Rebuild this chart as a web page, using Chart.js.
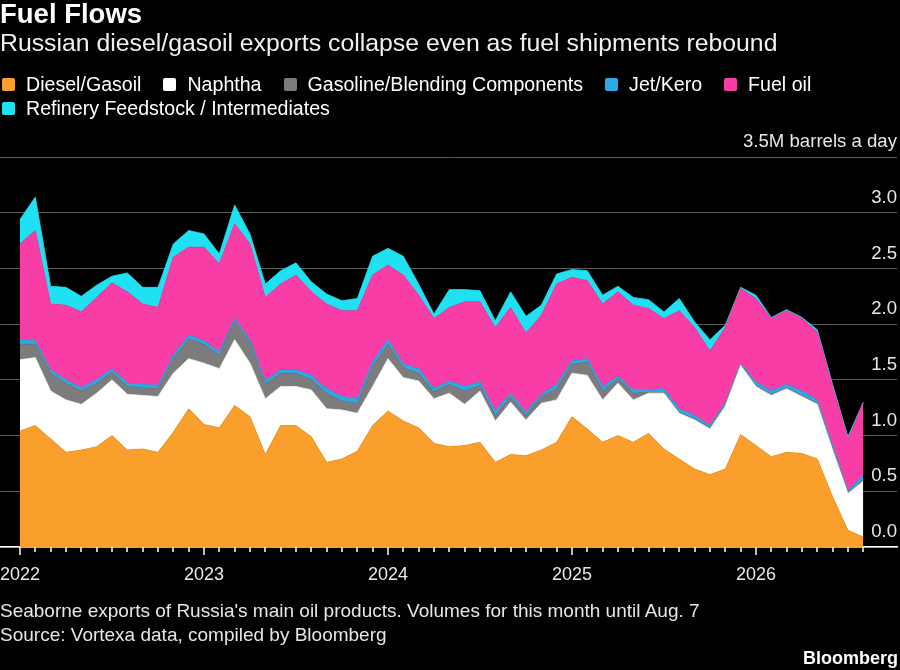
<!doctype html>
<html lang="en">

<head>
  <meta charset="utf-8">
  <title>Fuel Flows</title>
  <script src="https://cdn.jsdelivr.net/npm/chart.js"></script>
  <style>
    html, body { margin: 0; padding: 0; background: #000; }
    body {
      position: relative; width: 900px; height: 670px; overflow: hidden;
      font-family: "Liberation Sans", Arial, sans-serif; color: #fff;
    }
    canvas { position: absolute; left: 0; top: 0; }
    .txt { position: absolute; left: 0; white-space: nowrap; z-index: 2; }
    #title { top: -2.7px; font-size: 27.5px; line-height: 33px; font-weight: bold; }
    #subtitle { top: 28.3px; font-size: 24.8px; line-height: 29px; color: #f0f0f0; }
    #legend { top: 71.8px; left: 2px; width: 880px; font-size: 19.6px; line-height: 24.4px; display: flex; flex-wrap: wrap; }
    .item { display: flex; align-items: center; margin-right: 22px; }
    .box { width: 13px; height: 13px; border-radius: 2px; margin-right: 11px; }
    #note { top: 598.8px; font-size: 19px; line-height: 24px; color: #e6e6e6; }
    #logo { top: 647px; left: auto; right: 2px; font-size: 18px; line-height: 22px; font-weight: bold; }
  </style>
</head>

<body>
  <div class="txt" id="title">Fuel Flows</div>
  <div class="txt" id="subtitle">Russian diesel/gasoil exports collapse even as fuel shipments rebound</div>
  <div class="txt" id="legend"></div>
  <div class="txt" id="note">Seaborne exports of Russia's main oil products. Volumes for this month until Aug. 7<br>Source: Vortexa data, compiled by Bloomberg</div>
  <div class="txt" id="logo">Bloomberg</div>
  <canvas id="chart" width="900" height="670"></canvas>

  <script>
    // === DATA (million barrels a day, monthly, Jan 2022 - Aug 2026) ===
    const months = [];
    for (let y = 2022; y <= 2026; y++) {
      for (let m = 1; m <= 12; m++) {
        if (y === 2026 && m > 8) break;
        months.push(y + "-" + String(m).padStart(2, "0"));
      }
    }

    const diesel = [1.04, 1.09, 0.97, 0.85, 0.87, 0.90, 1.00, 0.87, 0.88, 0.85, 1.03, 1.24,
      1.10, 1.07, 1.27, 1.17, 0.83, 1.09, 1.09, 0.99, 0.76, 0.79, 0.86, 1.09,
      1.22, 1.13, 1.07, 0.93, 0.90, 0.91, 0.94, 0.76, 0.83, 0.82, 0.87, 0.94,
      1.17, 1.06, 0.94, 1.00, 0.94, 1.02, 0.88, 0.79, 0.70, 0.65, 0.70, 1.01,
      0.91, 0.81, 0.85, 0.84, 0.79, 0.45, 0.15, 0.09];
    const naphtha = [0.64, 0.61, 0.43, 0.47, 0.41, 0.48, 0.50, 0.50, 0.48, 0.50, 0.53, 0.45,
      0.55, 0.53, 0.59, 0.48, 0.50, 0.35, 0.35, 0.42, 0.48, 0.44, 0.34, 0.35,
      0.47, 0.39, 0.42, 0.40, 0.48, 0.37, 0.46, 0.37, 0.47, 0.32, 0.42, 0.38,
      0.39, 0.48, 0.38, 0.47, 0.38, 0.36, 0.50, 0.41, 0.44, 0.41, 0.56, 0.62,
      0.53, 0.55, 0.57, 0.51, 0.49, 0.42, 0.33, 0.50];
    const gasoline = [0.14, 0.12, 0.16, 0.15, 0.12, 0.09, 0.07, 0.07, 0.07, 0.07, 0.13, 0.18,
      0.17, 0.12, 0.17, 0.18, 0.13, 0.12, 0.12, 0.09, 0.14, 0.08, 0.09, 0.18,
      0.13, 0.09, 0.07, 0.06, 0.08, 0.12, 0.05, 0.05, 0.05, 0.04, 0.06, 0.10,
      0.08, 0.12, 0.08, 0.04, 0.06, 0.01, 0.01, 0.01, 0.01, 0.01, 0.00, 0.01,
      0.01, 0.01, 0.01, 0.01, 0.01, 0.01, 0.01, 0.01];
    const jetKero = [0.04, 0.03, 0.03, 0.03, 0.03, 0.03, 0.03, 0.03, 0.03, 0.03, 0.03, 0.03,
      0.03, 0.03, 0.02, 0.03, 0.03, 0.03, 0.03, 0.04, 0.04, 0.04, 0.04, 0.04,
      0.04, 0.03, 0.04, 0.03, 0.03, 0.04, 0.03, 0.04, 0.03, 0.03, 0.02, 0.04,
      0.03, 0.03, 0.04, 0.02, 0.03, 0.02, 0.03, 0.03, 0.03, 0.02, 0.03, 0.01,
      0.03, 0.03, 0.03, 0.04, 0.03, 0.03, 0.01, 0.04];
    const fuelOil = [0.86, 0.99, 0.59, 0.67, 0.68, 0.74, 0.77, 0.82, 0.72, 0.70, 0.88, 0.79,
      0.84, 0.79, 0.85, 0.86, 0.75, 0.77, 0.85, 0.75, 0.76, 0.77, 0.79, 0.78,
      0.67, 0.80, 0.66, 0.63, 0.66, 0.76, 0.72, 0.75, 0.77, 0.71, 0.71, 0.90,
      0.75, 0.70, 0.74, 0.76, 0.76, 0.73, 0.63, 0.88, 0.79, 0.67, 0.68, 0.67,
      0.75, 0.65, 0.66, 0.65, 0.61, 0.53, 0.47, 0.65];
    const feedstock = [0.22, 0.30, 0.16, 0.16, 0.14, 0.11, 0.06, 0.17, 0.15, 0.18, 0.12, 0.15,
      0.12, 0.09, 0.17, 0.09, 0.12, 0.12, 0.11, 0.09, 0.09, 0.09, 0.11, 0.17,
      0.15, 0.17, 0.10, 0.04, 0.16, 0.11, 0.10, 0.06, 0.14, 0.15, 0.09, 0.09,
      0.07, 0.09, 0.08, 0.05, 0.07, 0.08, 0.06, 0.11, 0.05, 0.10, 0.02, 0.01,
      0.03, 0.01, 0.01, 0.01, 0.02, 0.02, 0.02, 0.01];

    const yTicks = [0, 0.5, 1, 1.5, 2, 2.5, 3, 3.5];
    const yTickLabels = ["0.0", "0.5", "1.0", "1.5", "2.0", "2.5", "3.0", "3.5M barrels a day"];

    // bottom of the stack first
    const series = [
      { label: "Diesel/Gasoil", data: diesel, color: "#fa9f2b" },
      { label: "Naphtha", data: naphtha, color: "#ffffff" },
      { label: "Gasoline/Blending Components", data: gasoline, color: "#7c7c7c" },
      { label: "Jet/Kero", data: jetKero, color: "#2aaae6" },
      { label: "Fuel oil", data: fuelOil, color: "#f83ea6" },
      { label: "Refinery Feedstock / Intermediates", data: feedstock, color: "#20e1f1" }
    ];

    // === LEGEND (html) ===
    const legend = document.getElementById("legend");
    series.forEach(s => {
      const item = document.createElement("div");
      item.className = "item";
      item.innerHTML = '<span class="box" style="background:' + s.color + '"></span>' + s.label;
      legend.appendChild(item);
    });

    // === month tick marks on the x axis, long ones at January ===
    const monthTicks = {
      id: "monthTicks",
      afterDraw(chart) {
        const xs = chart.scales.x;
        const ctx = chart.ctx;
        const base = chart.chartArea.bottom;
        ctx.save();
        ctx.strokeStyle = "#ffffff";
        ctx.lineWidth = 1.5;
        months.forEach((m, i) => {
          const px = Math.round(xs.getPixelForValue(i));
          const len = m.endsWith("-01") ? 8 : 5;
          ctx.beginPath();
          ctx.moveTo(px, base);
          ctx.lineTo(px, base + len);
          ctx.stroke();
        });
        ctx.restore();
      }
    };

    Chart.defaults.font.family = '"Liberation Sans", Arial, sans-serif';

    new Chart(document.getElementById("chart"), {
      type: "line",
      data: {
        datasets: series.map((s, k) => ({
          label: s.label,
          data: s.data.map((v, i) => ({ x: i, y: v })),
          backgroundColor: s.color,
          borderColor: s.color,
          borderWidth: 0.8,
          pointRadius: 0,
          tension: 0,
          fill: k === 0 ? "origin" : "-1"
        }))
      },
      options: {
        responsive: false,
        animation: false,
        layout: { padding: { top: 157, right: 3, bottom: 83, left: 0 } },
        plugins: {
          legend: { display: false },
          tooltip: { enabled: false }
        },
        scales: {
          x: {
            type: "linear",
            min: -1.304,
            max: 57.2,
            grid: { display: false },
            border: { color: "#ffffff", width: 1.5 },
            ticks: {
              autoSkip: false,
              maxRotation: 0,
              padding: 9,
              color: "#e6e6e6",
              font: { size: 18 },
              callback: v => (months[v] && months[v].endsWith("-01")) ? months[v].slice(0, 4) : ""
            },
            afterBuildTicks: s => { s.ticks = months.map((m, i) => ({ value: i })); },
            afterFit: s => { s.height = 40; s.paddingLeft = 0; s.paddingRight = 0; }
          },
          y: {
            type: "linear",
            position: "right",
            stacked: true,
            min: 0,
            max: 3.5,
            grid: { color: "#5c5c5c", lineWidth: 1, drawTicks: false },
            border: { display: false },
            ticks: {
              mirror: true,
              padding: 0,
              labelOffset: -15,
              color: "#e6e6e6",
              font: { size: 18.6 },
              callback: (v, i) => yTickLabels[i]
            },
            afterBuildTicks: s => { s.ticks = yTicks.map(v => ({ value: v })); },
            afterFit: s => { s.width = 0; s.paddingTop = 0; s.paddingBottom = 0; }
          }
        }
      },
      plugins: [monthTicks]
    });
  </script>

</body>

</html>
